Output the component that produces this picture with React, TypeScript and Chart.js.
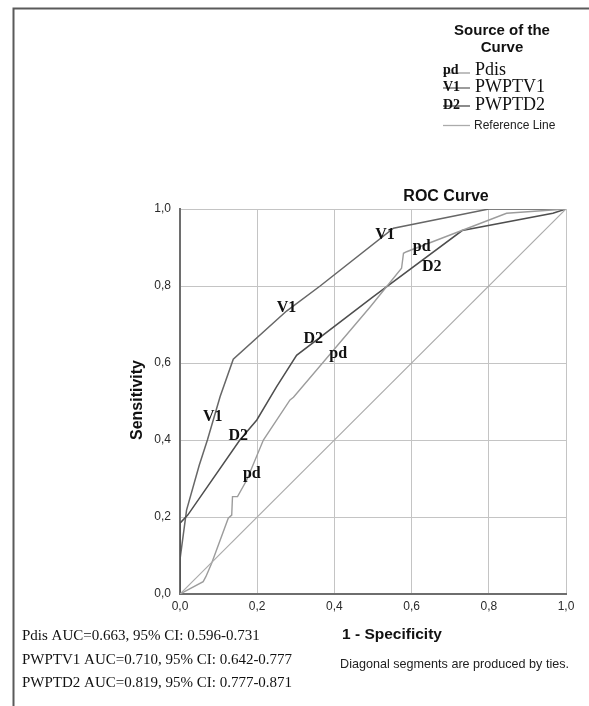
import React, { useEffect, useRef } from 'react';
import { Chart, registerables } from 'chart.js';

Chart.register(...registerables);

// ---- data ----
const TICK_VALUES = [0, 0.2, 0.4, 0.6, 0.8, 1.0];

const pdX = [0, 0.06, 0.067, 0.082, 0.125, 0.134, 0.136, 0.149, 0.173, 0.216, 0.285, 0.294, 0.492, 0.574, 0.579, 0.587, 0.846, 1];
const pdY = [0, 0.032, 0.045, 0.08, 0.197, 0.205, 0.253, 0.253, 0.296, 0.4, 0.504, 0.511, 0.745, 0.846, 0.885, 0.889, 0.989, 1];

const v1X = [0, 0, 0.017, 0.05, 0.071, 0.104, 0.138, 0.276, 0.363, 0.553, 0.8, 1];
const v1Y = [0, 0.09, 0.218, 0.335, 0.4, 0.513, 0.61, 0.735, 0.8, 0.95, 1.0, 1.0];

const d2X = [0, 0, 0.02, 0.155, 0.199, 0.25, 0.302, 0.5, 0.731, 0.966, 1];
const d2Y = [0, 0.184, 0.205, 0.4, 0.452, 0.538, 0.62, 0.772, 0.944, 0.989, 1];

const refX = [0, 1];
const refY = [0, 1];

const SERIES_NAMES = ['Pdis', 'PWPTV1', 'PWPTD2'];
const SERIES_CODES = ['pd', 'V1', 'D2'];

// curve-label anchors, in data units (x = 1 - specificity, y = sensitivity)
const pdLabelX = [0.186, 0.41, 0.626];
const pdLabelY = [0.313, 0.625, 0.902];
const v1LabelX = [0.085, 0.276, 0.531];
const v1LabelY = [0.46, 0.742, 0.932];
const d2LabelX = [0.151, 0.345, 0.652];
const d2LabelY = [0.41, 0.662, 0.849];

const AUC_TEXTS = [
  'Pdis AUC=0.663, 95% CI: 0.596-0.731',
  'PWPTV1 AUC=0.710, 95% CI: 0.642-0.777',
  'PWPTD2 AUC=0.819, 95% CI: 0.777-0.871',
];

const TITLE = 'ROC Curve';
const X_TITLE = '1 - Specificity';
const Y_TITLE = 'Sensitivity';
const LEGEND_TITLE = ['Source of the', 'Curve'];
const REF_NAME = 'Reference Line';
const FOOTNOTE = 'Diagonal segments are produced by ties.';

const SANS = '"Liberation Sans", Arial, sans-serif';
const SERIF = '"Liberation Serif", "Times New Roman", serif';

const COLORS = { pd: '#9c9c9c', v1: '#676767', d2: '#4e4e4e', ref: '#ababab' };

const toPoints = (xs: number[], ys: number[]) => xs.map((x, i) => ({ x, y: ys[i] }));

const annotPlugin = {
  id: 'annot',
  afterDraw(chart: any) {
    const ctx: CanvasRenderingContext2D = chart.ctx;
    const xs = chart.scales.x;
    const ys = chart.scales.y;
    ctx.save();

    // outer frame (top + left)
    ctx.strokeStyle = '#5a5a5a';
    ctx.lineWidth = 2;
    ctx.beginPath();
    ctx.moveTo(13.5, 706);
    ctx.lineTo(13.5, 8.5);
    ctx.lineTo(589, 8.5);
    ctx.stroke();

    // curve labels
    ctx.fillStyle = '#111';
    ctx.textAlign = 'center';
    ctx.textBaseline = 'middle';
    ctx.font = `bold 16px ${SERIF}`;
    const drawLabels = (lx: number[], ly: number[], code: string) => {
      lx.forEach((x, i) => {
        ctx.fillText(code, xs.getPixelForValue(x), ys.getPixelForValue(ly[i]));
      });
    };
    drawLabels(pdLabelX, pdLabelY, SERIES_CODES[0]);
    drawLabels(v1LabelX, v1LabelY, SERIES_CODES[1]);
    drawLabels(d2LabelX, d2LabelY, SERIES_CODES[2]);

    // chart title
    ctx.font = `bold 16px ${SANS}`;
    ctx.fillStyle = '#111';
    ctx.fillText(TITLE, 446, 197);

    // axis titles
    ctx.font = `bold 15.5px ${SANS}`;
    ctx.fillText(X_TITLE, 392, 635);
    ctx.save();
    ctx.translate(138, 400);
    ctx.rotate(-Math.PI / 2);
    ctx.font = `bold 16px ${SANS}`;
    ctx.fillText(Y_TITLE, 0, 0);
    ctx.restore();

    // footnote
    ctx.font = `12.6px ${SANS}`;
    ctx.textAlign = 'right';
    ctx.fillStyle = '#222';
    ctx.fillText(FOOTNOTE, 569, 665);

    // AUC texts
    ctx.font = `15px ${SERIF}`;
    ctx.textAlign = 'left';
    ctx.fillStyle = '#111';
    const aucY = [636, 660, 683];
    AUC_TEXTS.forEach((t, i) => ctx.fillText(t, 22, aucY[i]));

    // legend
    ctx.textAlign = 'center';
    ctx.font = `bold 15px ${SANS}`;
    ctx.fillText(LEGEND_TITLE[0], 502, 31);
    ctx.fillText(LEGEND_TITLE[1], 502, 48);

    const legY = [70, 87, 105];
    const legColors = [COLORS.pd, COLORS.v1, COLORS.d2];
    legY.forEach((y, i) => {
      ctx.strokeStyle = legColors[i];
      ctx.lineWidth = 1.3;
      ctx.beginPath();
      ctx.moveTo(443, i === 0 ? y + 3 : y + 1);
      ctx.lineTo(470, i === 0 ? y + 3 : y + 1);
      ctx.stroke();
      ctx.textAlign = 'left';
      ctx.font = `bold 14px ${SERIF}`;
      ctx.fillStyle = '#111';
      ctx.fillText(SERIES_CODES[i], 443, y);
      ctx.font = `18px ${SERIF}`;
      ctx.fillText(SERIES_NAMES[i], 475, y);
    });
    ctx.strokeStyle = COLORS.ref;
    ctx.lineWidth = 1.3;
    ctx.beginPath();
    ctx.moveTo(443, 125.5);
    ctx.lineTo(470, 125.5);
    ctx.stroke();
    ctx.font = `12px ${SANS}`;
    ctx.fillStyle = '#222';
    ctx.fillText(REF_NAME, 474, 126);

    ctx.restore();
  },
};

export default function App() {
  const ref = useRef<HTMLCanvasElement | null>(null);

  useEffect(() => {
    if (!ref.current) return;
    Chart.defaults.font.family = SANS;
    const fmt = (v: any) => Number(v).toFixed(1).replace('.', ',');
    const chart = new Chart(ref.current, {
      type: 'scatter',
      data: {
        datasets: [
          { label: 'Reference Line', data: toPoints(refX, refY), showLine: true, borderColor: COLORS.ref, borderWidth: 1.2, pointRadius: 0 },
          { label: SERIES_NAMES[0], data: toPoints(pdX, pdY), showLine: true, borderColor: COLORS.pd, borderWidth: 1.4, pointRadius: 0 },
          { label: SERIES_NAMES[2], data: toPoints(d2X, d2Y), showLine: true, borderColor: COLORS.d2, borderWidth: 1.5, pointRadius: 0 },
          { label: SERIES_NAMES[1], data: toPoints(v1X, v1Y), showLine: true, borderColor: COLORS.v1, borderWidth: 1.5, pointRadius: 0 },
        ],
      },
      options: {
        responsive: false,
        animation: false,
        events: [],
        layout: { padding: { left: 0, top: 209, right: 23, bottom: 0 } },
        plugins: { legend: { display: false }, tooltip: { enabled: false }, title: { display: false } },
        scales: {
          x: {
            type: 'linear',
            min: 0,
            max: 1,
            afterFit: (s: any) => { s.height = 112; },
            afterBuildTicks: (s: any) => { s.ticks = TICK_VALUES.map((v) => ({ value: v })); },
            grid: { color: '#c4c4c4', lineWidth: 1, drawTicks: false },
            border: { color: '#6e6e6e', width: 2 },
            ticks: { callback: fmt, padding: 5, color: '#2a2a2a', font: { size: 12 }, maxRotation: 0 },
          },
          y: {
            type: 'linear',
            min: 0,
            max: 1,
            afterFit: (s: any) => { s.width = 180; },
            afterBuildTicks: (s: any) => { s.ticks = TICK_VALUES.map((v) => ({ value: v })); },
            grid: { color: '#c4c4c4', lineWidth: 1, drawTicks: false },
            border: { color: '#6e6e6e', width: 2 },
            ticks: { callback: fmt, padding: 9, color: '#2a2a2a', font: { size: 12 } },
          },
        },
      },
      plugins: [annotPlugin],
    });
    return () => chart.destroy();
  }, []);

  return (
    <div style={{ position: 'absolute', left: 0, top: 0, width: 589, height: 706, background: '#fff' }}>
      <canvas ref={ref} width={589} height={706} style={{ display: 'block', width: 589, height: 706 }} />
    </div>
  );
}
